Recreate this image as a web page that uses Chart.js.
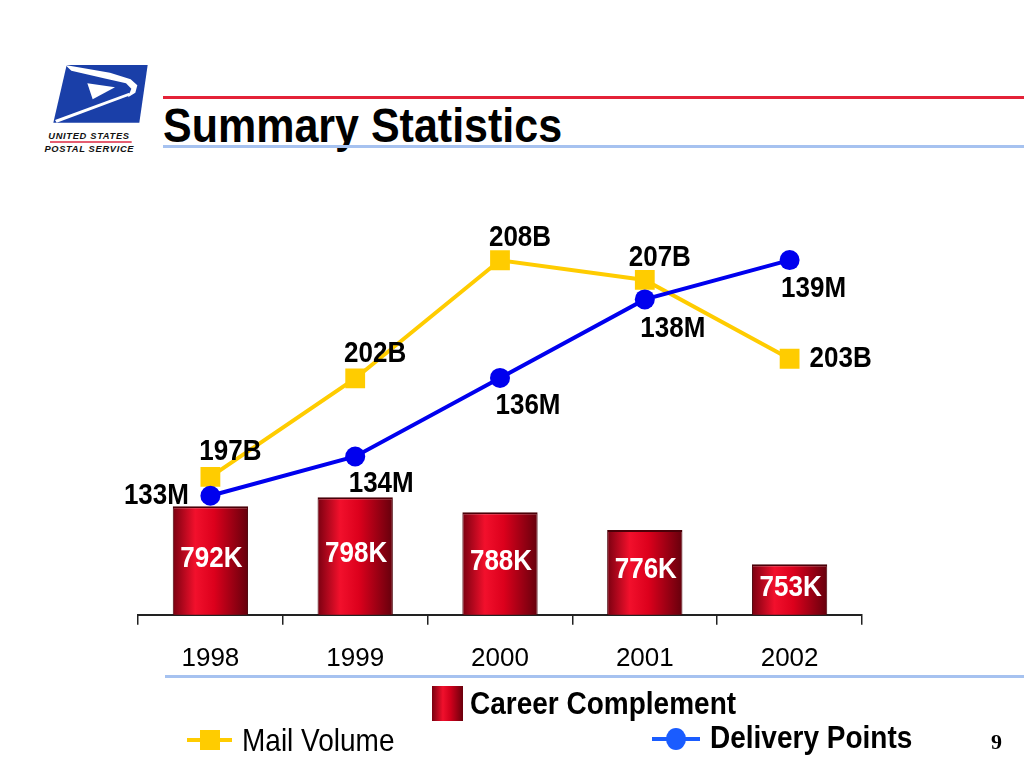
<!DOCTYPE html>
<html>
<head>
<meta charset="utf-8">
<script src="https://cdn.jsdelivr.net/npm/chart.js@4/dist/chart.umd.min.js"></script>
<style>
  html, body { margin: 0; padding: 0; background: #fff; }
  body { width: 1024px; height: 768px; position: relative; overflow: hidden; font-family: "Liberation Sans", Arial, sans-serif; }
  #chart { position: absolute; left: 0; top: 0; }
  .abs { position: absolute; white-space: nowrap; line-height: 1; }
  .tall { transform: scaleY(1.12); transform-origin: left center; }
  .rule { position: absolute; height: 3px; }
</style>
</head>
<body>
<svg class="abs" style="left:0;top:50px" width="200" height="110" viewBox="0 0 600 330">
  <polygon points="200,45 443,45 418,218 160,218" fill="#1a3fa8"/>
  <polygon points="196,45 330,68 392,88 412,106 406,128 384,142 394,116 378,100 318,86 214,62" fill="#fff"/>
  <polygon points="262,100 345,112 278,148" fill="#fff"/>
  <polygon points="165,210 388,128 391,136 170,218" fill="#fff"/>
  <text x="267" y="266" font-family="Liberation Sans, Arial" font-size="28" font-weight="bold" font-style="italic" fill="#111" text-anchor="middle" letter-spacing="2">UNITED STATES</text>
  <rect x="150" y="274" width="245" height="4" fill="#d8102c"/>
  <text x="268" y="305" font-family="Liberation Sans, Arial" font-size="28" font-weight="bold" font-style="italic" fill="#111" text-anchor="middle" letter-spacing="2">POSTAL SERVICE</text>
</svg>
<div class="rule" style="left:163px;top:96px;width:861px;background:#e42238"></div>
<div class="abs tall" style="left:163px;top:104px;font-size:43px;font-weight:bold;color:#000">Summary Statistics</div>
<div class="rule" style="left:163px;top:145px;width:861px;background:#a6c2f0"></div>
<div class="rule" style="left:165px;top:675px;width:859px;background:#a6c2f0"></div>

<canvas id="chart" width="1024" height="768"></canvas>

<div class="abs" style="left:432px;top:686px;width:31px;height:35px;background:linear-gradient(90deg,#7a0010,#f0102c 35%,#d0001c 60%,#6a000c)"></div>
<div class="abs tall" style="left:470px;top:690px;font-size:28px;font-weight:bold">Career Complement</div>
<div class="abs" style="left:187px;top:738px;width:45px;height:4px;background:#ffcc00"></div>
<div class="abs" style="left:200px;top:730px;width:20px;height:20px;background:#ffcc00"></div>
<div class="abs tall" style="left:242px;top:727px;font-size:28px">Mail Volume</div>
<div class="abs" style="left:652px;top:737px;width:48px;height:4px;background:#1a5cff"></div>
<div class="abs" style="left:666px;top:728px;width:20px;height:22px;border-radius:50%;background:#1a5cff"></div>
<div class="abs tall" style="left:710px;top:724px;font-size:28px;font-weight:bold">Delivery Points</div>
<div class="abs" style="left:991px;top:731px;font-size:22px;font-weight:bold;font-family:'Liberation Serif','DejaVu Serif',serif">9</div>

<script>
const years = ['1998', '1999', '2000', '2001', '2002'];
const careerComplement = [792, 798, 788, 776, 753];   // thousands
const mailVolume = [197, 202, 208, 207, 203];         // billions
const deliveryPoints = [133, 134, 136, 138, 139];     // millions

// label placement relative to each point
const mailLabelShift = [[20, -25], [20, -24], [20, -22], [15, -22], [51, 0]];
const deliveryLabelShift = [[-54, 0], [26, 27], [28, 28], [28, 30], [24, 29]];

function barFill(ctx) {
  const c = ctx.chart;
  if (!c.chartArea || !c.scales.x) return '#d0001c';
  const x = c.scales.x.getPixelForValue(ctx.dataIndex);
  const g = c.ctx.createLinearGradient(x - 38, 0, x + 38, 0);
  g.addColorStop(0, '#780010');
  g.addColorStop(0.3, '#f2102c');
  g.addColorStop(0.55, '#dc001c');
  g.addColorStop(1, '#64000c');
  return g;
}

function tallText(ctx, text, x, y) {
  ctx.save();
  ctx.translate(x, y);
  ctx.scale(1, 1.12);
  ctx.fillText(text, 0, 0);
  ctx.restore();
}

const valueLabels = {
  id: 'valueLabels',
  afterDatasetsDraw(chart) {
    const ctx = chart.ctx;
    const bottom = chart.chartArea.bottom;
    ctx.save();
    ctx.textAlign = 'center';
    ctx.textBaseline = 'middle';
    ctx.font = 'bold 26px "Liberation Sans", Arial, sans-serif';
    ctx.fillStyle = '#fff';
    chart.getDatasetMeta(0).data.forEach((bar, i) => {
      tallText(ctx, careerComplement[i] + 'K', bar.x + 1, (bar.y + bottom) / 2 - 2);
    });
    ctx.fillStyle = '#000';
    chart.getDatasetMeta(1).data.forEach((pt, i) => {
      tallText(ctx, mailVolume[i] + 'B', pt.x + mailLabelShift[i][0], pt.y + mailLabelShift[i][1]);
    });
    chart.getDatasetMeta(2).data.forEach((pt, i) => {
      tallText(ctx, deliveryPoints[i] + 'M', pt.x + deliveryLabelShift[i][0], pt.y + deliveryLabelShift[i][1]);
    });
    ctx.restore();
  }
};

new Chart(document.getElementById('chart'), {
  type: 'bar',
  data: {
    labels: years,
    datasets: [
      {
        label: 'Career Complement',
        data: careerComplement,
        yAxisID: 'yBar',
        backgroundColor: barFill,
        borderColor: '#4a0008',
        borderWidth: { top: 2, left: 1, right: 1, bottom: 0 },
        barPercentage: 0.52,
        categoryPercentage: 1,
        order: 3
      },
      {
        type: 'line',
        label: 'Mail Volume',
        data: mailVolume,
        yAxisID: 'yMail',
        borderColor: '#ffcc00',
        backgroundColor: '#ffcc00',
        borderWidth: 4,
        pointStyle: 'rect',
        pointRadius: 14,
        pointBorderWidth: 0,
        order: 2
      },
      {
        type: 'line',
        label: 'Delivery Points',
        data: deliveryPoints,
        yAxisID: 'yDel',
        borderColor: '#0000ee',
        backgroundColor: '#0000ee',
        borderWidth: 4,
        pointStyle: 'circle',
        pointRadius: 10,
        pointBorderWidth: 0,
        order: 1
      }
    ]
  },
  options: {
    responsive: false,
    animation: false,
    layout: { padding: { left: 138, right: 162, top: 200, bottom: 76 } },
    plugins: { legend: { display: false }, tooltip: { enabled: false } },
    scales: {
      x: {
        offset: true,
        grid: { display: true, drawOnChartArea: false, drawTicks: true, tickLength: 10, color: '#222', lineWidth: 1.5, offset: true },
        border: { display: true, color: '#222', width: 2 },
        ticks: { color: '#000', padding: 18, font: { size: 26, family: '"Liberation Sans", Arial, sans-serif' } }
      },
      yBar: { display: false, min: 719, max: 998 },
      yMail: { display: false, min: 190, max: 211.06 },
      yDel: { display: false, min: 129.97, max: 140.53 }
    }
  },
  plugins: [valueLabels]
});
</script>
</body>
</html>
